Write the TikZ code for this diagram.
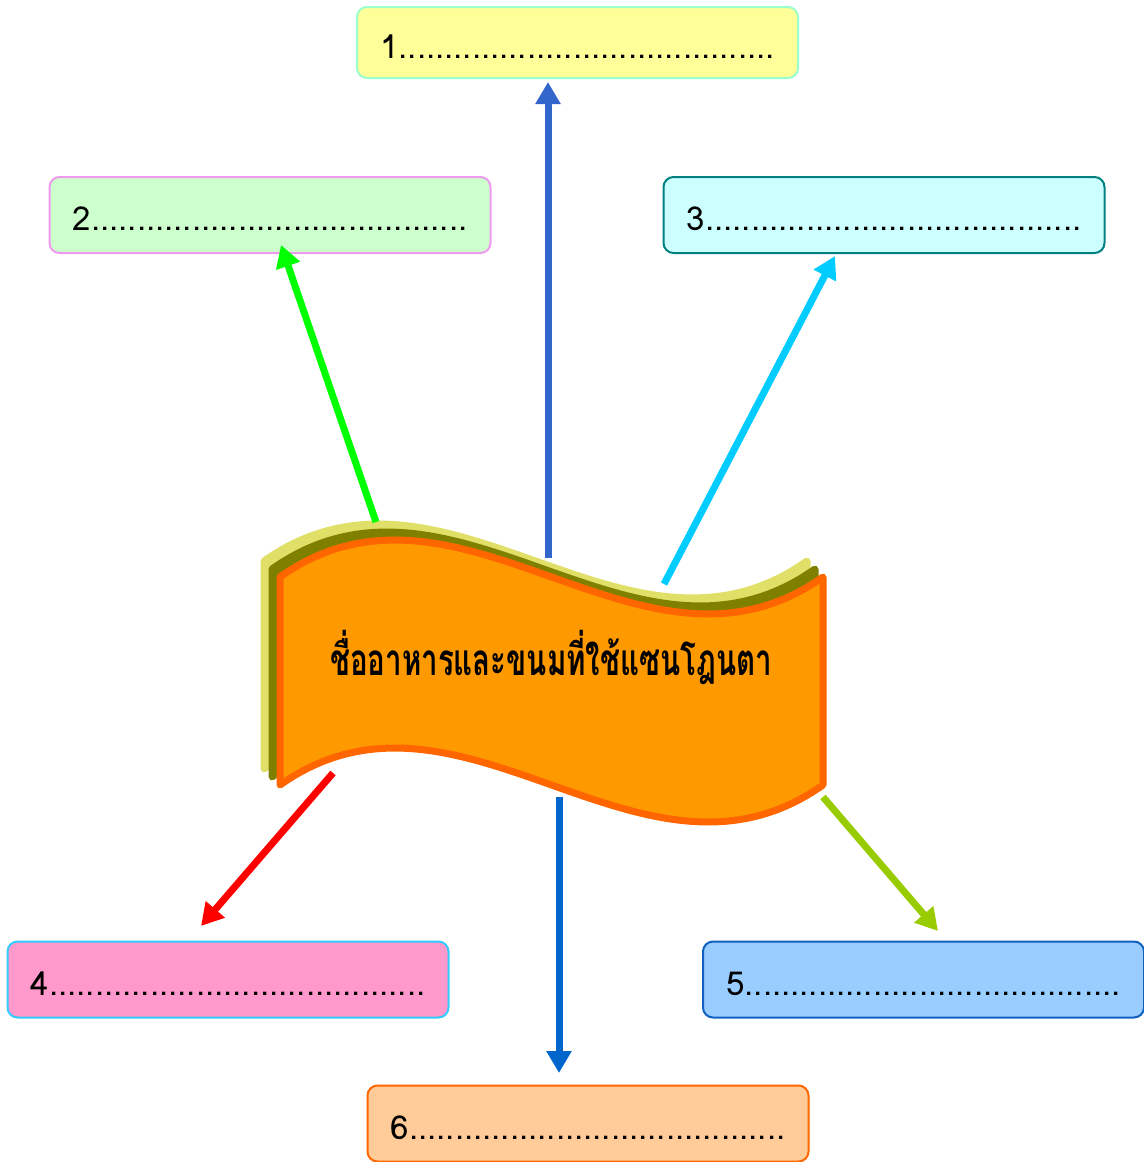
\documentclass[tikz,border=0pt]{standalone}
\usepackage{fontspec}
\usepackage{graphicx}
\newfontfamily\thaifont[Script=Thai]{Loma}
\usetikzlibrary{arrows.meta}
\definecolor{boxyellow}{HTML}{FFFF99}
\definecolor{boxmint}{HTML}{99FFCC}
\definecolor{boxgreen}{HTML}{CCFFCC}
\definecolor{boxviolet}{HTML}{F099F0}
\definecolor{boxcyan}{HTML}{CCFFFF}
\definecolor{boxteal}{HTML}{008080}
\definecolor{boxpink}{HTML}{FF99CC}
\definecolor{boxsky}{HTML}{33CCFF}
\definecolor{boxblue}{HTML}{99CCFF}
\definecolor{boxnavy}{HTML}{1060C0}
\definecolor{boxpeach}{HTML}{FFCC99}
\definecolor{bannerfill}{HTML}{FF9900}
\definecolor{bannerline}{HTML}{FF6600}
\definecolor{bannerolive}{HTML}{808000}
\definecolor{bannerpale}{HTML}{E0E068}
\definecolor{arrowone}{HTML}{3366CC}
\definecolor{arrowtwo}{HTML}{00FF00}
\definecolor{arrowthree}{HTML}{00CCFF}
\definecolor{arrowfour}{HTML}{FF0000}
\definecolor{arrowfive}{HTML}{99CC00}
\definecolor{arrowsix}{HTML}{0066CC}
\tikzset{
  answerbox/.style={
    rectangle,
    rounded corners=5pt,
    line width=1pt,
    minimum width=220.5pt,
    minimum height=38pt,
    inner sep=0,
    font=\thaifont\fontsize{16.5}{19}\selectfont,
    text height=15.5pt,
    text depth=0pt,
  },
  spoke/.style={
    line width=3.5pt,
    -{Triangle[length=11pt,width=12pt]},
  },
  layer/.style={
    line width=3.5pt,
    line join=round,
    line cap=round,
  },
}
\newcommand{\answerline}[1]{#1.........................................}
\newcommand{\bannershape}{%
  (280,577) .. controls (461,449) and (642,705) .. (823,577) -- (823,785)
  .. controls (642,913) and (461,657) .. (280,785) -- cycle}

\begin{document}
\begin{tikzpicture}[x=0.5pt,y=-0.5pt]
  \useasboundingbox (0,0) rectangle (1144,1162);

  % banner, back to front
  \begin{scope}[shift={(-16,-16)}]
    \filldraw[layer,draw=bannerpale,fill=bannerpale] \bannershape;
  \end{scope}
  \begin{scope}[shift={(-8,-8)}]
    \filldraw[layer,draw=bannerolive,fill=bannerolive] \bannershape;
  \end{scope}
  \filldraw[layer,draw=bannerline,fill=bannerfill] \bannershape;

  \node[font=\thaifont\bfseries\fontsize{22}{26}\selectfont] (title) at (551,657)
    {\scalebox{0.67}[1]{ชื่ออาหารและขนมที่ใช้แซนโฎนตา}};

  % answer boxes
  \node[answerbox,minimum height=35.5pt,fill=boxyellow,draw=boxmint] (box1) at (577.5,42.5) {\answerline{1}};
  \node[answerbox,fill=boxgreen,draw=boxviolet] (box2) at (270,215) {\answerline{2}};
  \node[answerbox,fill=boxcyan,draw=boxteal] (box3) at (884,215) {\answerline{3}};
  \node[answerbox,fill=boxpink,draw=boxsky] (box4) at (228,979.5) {\answerline{4}};
  \node[answerbox,fill=boxblue,draw=boxnavy] (box5) at (923.5,979.5) {\answerline{5}};
  \node[answerbox,fill=boxpeach,draw=bannerline] (box6) at (588,1123.5) {\answerline{6}};

  % arrow ends
  \coordinate (t1) at (548,558);  \coordinate (h1) at (548,82);
  \coordinate (t2) at (376,522);  \coordinate (h2) at (281,245);
  \coordinate (t3) at (664,584);  \coordinate (h3) at (835,256);
  \coordinate (t4) at (333,773);  \coordinate (h4) at (201,926);
  \coordinate (t5) at (823,797);  \coordinate (h5) at (938,931);
  \coordinate (t6) at (559,797);  \coordinate (h6) at (559,1073);

  \draw[spoke,arrowone] (t1) -- (h1);
  \draw[spoke,arrowtwo] (t2) -- (h2);
  \draw[spoke,arrowthree] (t3) -- (h3);
  \draw[spoke,arrowfour] (t4) -- (h4);
  \draw[spoke,arrowfive] (t5) -- (h5);
  \draw[spoke,arrowsix] (t6) -- (h6);
\end{tikzpicture}
\end{document}
